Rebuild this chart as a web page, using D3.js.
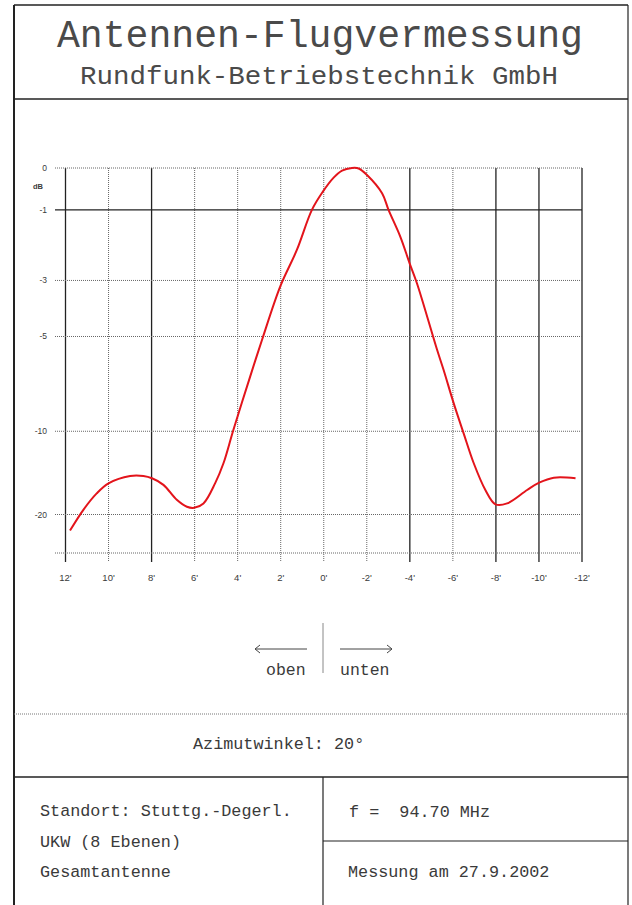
<!DOCTYPE html>
<html>
<head>
<meta charset="utf-8">
<script src="https://cdn.jsdelivr.net/npm/d3@7"></script>
<style>
  body { margin: 0; background: #fff; }
  text { font-family: "Liberation Mono", monospace; fill: #3a3a3a; }
</style>
</head>
<body>
<script>
// x ticks in degrees (oben positive, unten negative)
var xTicks = [12, 10, 8, 6, 4, 2, 0, -2, -4, -6, -8, -10, -12];
// dB grid lines
var yTicks = [0, -1, -3, -5, -10, -20];

var angle = [11.79, 11.17, 10.55, 10.0, 9.0, 8.38, 7.98, 7.45, 6.83, 6.36, 6.02, 5.59, 5.05, 4.66,
  4.20, 3.42, 2.87, 2.02, 1.25, 0.55, 0.04, -0.46, -0.85, -1.31, -1.62, -2.01, -2.71, -3.01, -3.56,
  -3.99, -4.33, -5.27, -5.57, -6.04, -6.50, -6.97, -7.51, -7.98, -8.52, -9.45, -10.01, -10.69, -11.70];
var level = [-24.7, -19.0, -16.2, -14.85, -13.98, -13.98, -14.24, -15.04, -17.2, -18.4, -18.6, -17.8, -14.85, -12.65,
  -9.91, -6.78, -5.14, -3.19, -2.08, -1.0, -0.55, -0.22, -0.06, 0, -0.01, -0.16, -0.59, -1.0, -1.71,
  -2.47, -3.09, -5.56, -6.46, -8.21, -10.15, -12.65, -15.72, -17.96, -17.8, -15.72, -14.77, -14.17, -14.24];

var W = 632, H = 905;
var svg = d3.select("body").append("svg")
  .attr("width", W)
  .attr("height", H);

// frame
var frame = svg.append("g").attr("stroke", "#222").attr("fill", "none");
frame.append("line").attr("x1", 14).attr("x2", 14).attr("y1", 5).attr("y2", H).attr("stroke-width", 2);
frame.append("line").attr("x1", 628).attr("x2", 628).attr("y1", 5).attr("y2", H).attr("stroke-width", 1.2);
frame.append("line").attr("x1", 14).attr("x2", 628).attr("y1", 5).attr("y2", 5).attr("stroke-width", 1.5);
frame.append("line").attr("x1", 14).attr("x2", 628).attr("y1", 99).attr("y2", 99).attr("stroke-width", 1.5);
frame.append("line").attr("x1", 14).attr("x2", 628).attr("y1", 714).attr("y2", 714)
  .attr("stroke", "#777").attr("stroke-dasharray", "1,1");
frame.append("line").attr("x1", 14).attr("x2", 628).attr("y1", 777).attr("y2", 777).attr("stroke-width", 1.5);
frame.append("line").attr("x1", 323).attr("x2", 323).attr("y1", 777).attr("y2", H).attr("stroke-width", 1.2);
frame.append("line").attr("x1", 323).attr("x2", 628).attr("y1", 841).attr("y2", 841).attr("stroke-width", 1.2);

// header
svg.append("text").attr("x", 57).attr("y", 47)
  .attr("font-size", 38).attr("textLength", 526).attr("lengthAdjust", "spacingAndGlyphs")
  .style("fill", "#4a4a4a")
  .text("Antennen-Flugvermessung");
svg.append("text").attr("x", 80).attr("y", 84)
  .attr("font-size", 26).attr("textLength", 478).attr("lengthAdjust", "spacingAndGlyphs")
  .style("fill", "#4a4a4a")
  .text("Rundfunk-Betriebstechnik GmbH");

// scales: x linear in degrees, y linear in field amplitude
var x = d3.scaleLinear().domain([12, -12]).range([65.5, 582]);
var amp = d3.scaleLinear().domain([0, 1]).range([553, 168]);
function y(db) { return amp(Math.pow(10, db / 20)); }

var solidX = [12, 8, -4, -8, -10, -12];

var grid = svg.append("g");
grid.selectAll(".vx").data(xTicks).enter().append("line")
  .attr("x1", function(d) { return x(d); })
  .attr("x2", function(d) { return x(d); })
  .attr("y1", amp(1))
  .attr("y2", amp(0) + 9)
  .attr("stroke", function(d) { return solidX.indexOf(d) >= 0 ? "#222" : "#666"; })
  .attr("stroke-width", function(d) { return solidX.indexOf(d) >= 0 ? 1.3 : 1; })
  .attr("stroke-dasharray", function(d) { return solidX.indexOf(d) >= 0 ? null : "1,1"; });

grid.selectAll(".hy").data(yTicks.concat([null])).enter().append("line")
  .attr("x1", 55)
  .attr("x2", x(-12))
  .attr("y1", function(d) { return d === null ? amp(0) : y(d); })
  .attr("y2", function(d) { return d === null ? amp(0) : y(d); })
  .attr("stroke", function(d) { return d === -1 ? "#222" : "#666"; })
  .attr("stroke-width", function(d) { return d === -1 ? 1.3 : 1; })
  .attr("stroke-dasharray", function(d) { return d === -1 ? null : "1,1"; });

// tick labels
svg.selectAll(".xl").data(xTicks).enter().append("text")
  .attr("x", function(d) { return x(d); })
  .attr("y", 581)
  .attr("text-anchor", "middle")
  .style("font-family", "Liberation Sans, Arial, sans-serif")
  .attr("font-size", 9.5)
  .text(function(d) { return (d < 0 ? "-" + (-d) : d) + "'"; });

svg.selectAll(".yl").data(yTicks).enter().append("text")
  .attr("x", 47)
  .attr("y", function(d) { return y(d) + 3; })
  .attr("text-anchor", "end")
  .style("font-family", "Liberation Sans, Arial, sans-serif")
  .attr("font-size", 8.5)
  .text(function(d) { return d; });

svg.append("text").attr("x", 43).attr("y", 189)
  .attr("text-anchor", "end")
  .style("font-family", "Liberation Sans, Arial, sans-serif")
  .attr("font-size", 7.5).attr("font-weight", "bold")
  .text("dB");

// curve
var pts = angle.map(function(a, i) { return [a, level[i]]; });
var line = d3.line()
  .x(function(d) { return x(d[0]); })
  .y(function(d) { return y(d[1]); })
  .curve(d3.curveCatmullRom.alpha(0.5));
svg.append("path").datum(pts)
  .attr("d", line)
  .attr("fill", "none")
  .attr("stroke", "#e3141b")
  .attr("stroke-width", 2)
  .attr("stroke-linejoin", "round");

// direction legend
var leg = svg.append("g").attr("stroke", "#444").attr("fill", "none").attr("stroke-width", 1);
leg.append("line").attr("x1", 323).attr("x2", 323).attr("y1", 623).attr("y2", 673).attr("stroke", "#888");
leg.append("path").attr("d", "M307,649H255M260,645L255,649L260,653");
leg.append("path").attr("d", "M340,649H392M387,645L392,649L387,653");
svg.append("text").attr("x", 266).attr("y", 675).attr("font-size", 16.5).text("oben");
svg.append("text").attr("x", 340).attr("y", 675).attr("font-size", 16.5).text("unten");

// info boxes
svg.append("text").attr("x", 193).attr("y", 749).attr("font-size", 16.8).style("white-space", "pre")
  .text("Azimutwinkel: 20°");
svg.append("text").attr("x", 40).attr("y", 816).attr("font-size", 16.8).text("Standort: Stuttg.-Degerl.");
svg.append("text").attr("x", 40).attr("y", 847).attr("font-size", 16.8).text("UKW (8 Ebenen)");
svg.append("text").attr("x", 40).attr("y", 877).attr("font-size", 16.8).text("Gesamtantenne");
svg.append("text").attr("x", 349).attr("y", 817).attr("font-size", 16.8).style("white-space", "pre")
  .text("f =  94.70 MHz");
svg.append("text").attr("x", 348).attr("y", 877).attr("font-size", 16.8).text("Messung am 27.9.2002");
</script>
</body>
</html>
